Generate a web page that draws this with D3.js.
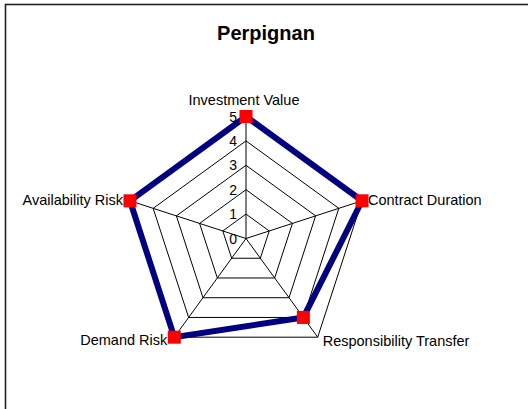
<!DOCTYPE html>
<html>
<head>
<meta charset="utf-8">
<script src="https://cdn.jsdelivr.net/npm/d3@7"></script>
<style>
  html, body { margin: 0; padding: 0; background: #fff; }
  svg { display: block; font-family: "Liberation Sans", Arial, sans-serif; }
</style>
</head>
<body>
<div id="chart-area"></div>
<script>
const title = "Perpignan";
const categories = ["Investment Value", "Contract Duration", "Responsibility Transfer", "Demand Risk", "Availability Risk"];
const values = [5, 5, 4, 5, 5];
const tickValues = [0, 1, 2, 3, 4, 5];

const svgWidth = 528;
const svgHeight = 409;
const cx = 246;
const cy = 238.5;
const radius = 122;

const svg = d3.select("#chart-area")
    .append("svg")
    .attr("width", svgWidth)
    .attr("height", svgHeight);

// chart frame (runs off the right and bottom edges)
svg.append("rect")
    .attr("x", 5.5)
    .attr("y", 4.5)
    .attr("width", 600)
    .attr("height", 600)
    .attr("fill", "#fff")
    .attr("stroke", "#222")
    .attr("stroke-width", 1.6);

svg.append("text")
    .attr("x", 266)
    .attr("y", 40)
    .attr("text-anchor", "middle")
    .style("font-size", "20px")
    .style("font-weight", "bold")
    .text(title);

const rScale = d3.scaleLinear().domain([0, 5]).range([0, radius]);
const angle = d3.scalePoint()
    .domain(categories)
    .range([0, 2 * Math.PI * (categories.length - 1) / categories.length]);

const point = (cat, v) => {
    const a = angle(cat);
    return [cx + rScale(v) * Math.sin(a), cy - rScale(v) * Math.cos(a)];
};

const g = svg.append("g");

// web gridlines
g.selectAll(".grid")
    .data(tickValues.filter(d => d > 0))
    .join("polygon")
    .attr("class", "grid")
    .attr("points", d => categories.map(c => point(c, d).join(",")).join(" "))
    .attr("fill", "none")
    .attr("stroke", "#000")
    .attr("stroke-width", 1);

// spokes
g.selectAll(".spoke")
    .data(categories)
    .join("line")
    .attr("class", "spoke")
    .attr("x1", cx)
    .attr("y1", cy)
    .attr("x2", d => point(d, 5)[0])
    .attr("y2", d => point(d, 5)[1])
    .attr("stroke", "#000")
    .attr("stroke-width", 1);

// tick labels along the first axis
g.selectAll(".tick-label")
    .data(tickValues)
    .join("text")
    .attr("class", "tick-label")
    .attr("x", cx - 9)
    .attr("y", d => cy - rScale(d) + 5)
    .attr("text-anchor", "end")
    .style("font-size", "14px")
    .attr("fill", "#000")
    .text(d => d);

// series line
const line = d3.line().curve(d3.curveLinearClosed);
g.append("path")
    .datum(categories.map((c, i) => point(c, values[i])))
    .attr("d", line)
    .attr("fill", "none")
    .attr("stroke", "#000080")
    .attr("stroke-width", 6)
    .attr("stroke-linejoin", "miter");

// markers
const ms = 13;
g.selectAll(".marker")
    .data(categories)
    .join("rect")
    .attr("class", "marker")
    .attr("x", (d, i) => point(d, values[i])[0] - ms / 2)
    .attr("y", (d, i) => point(d, values[i])[1] - ms / 2)
    .attr("width", ms)
    .attr("height", ms)
    .attr("fill", "#ff0000");

// category labels
const labelPos = [
    { dx: -2, dy: -12, anchor: "middle" },
    { dx: 6, dy: 4, anchor: "start" },
    { dx: 5, dy: 9, anchor: "start" },
    { dx: -7, dy: 8, anchor: "end" },
    { dx: -7, dy: 4, anchor: "end" }
];
g.selectAll(".cat-label")
    .data(categories)
    .join("text")
    .attr("class", "cat-label")
    .attr("x", (d, i) => point(d, 5)[0] + labelPos[i].dx)
    .attr("y", (d, i) => point(d, 5)[1] + labelPos[i].dy)
    .attr("text-anchor", (d, i) => labelPos[i].anchor)
    .style("font-size", "14.5px")
    .attr("fill", "#000")
    .text(d => d);
</script>
</body>
</html>
